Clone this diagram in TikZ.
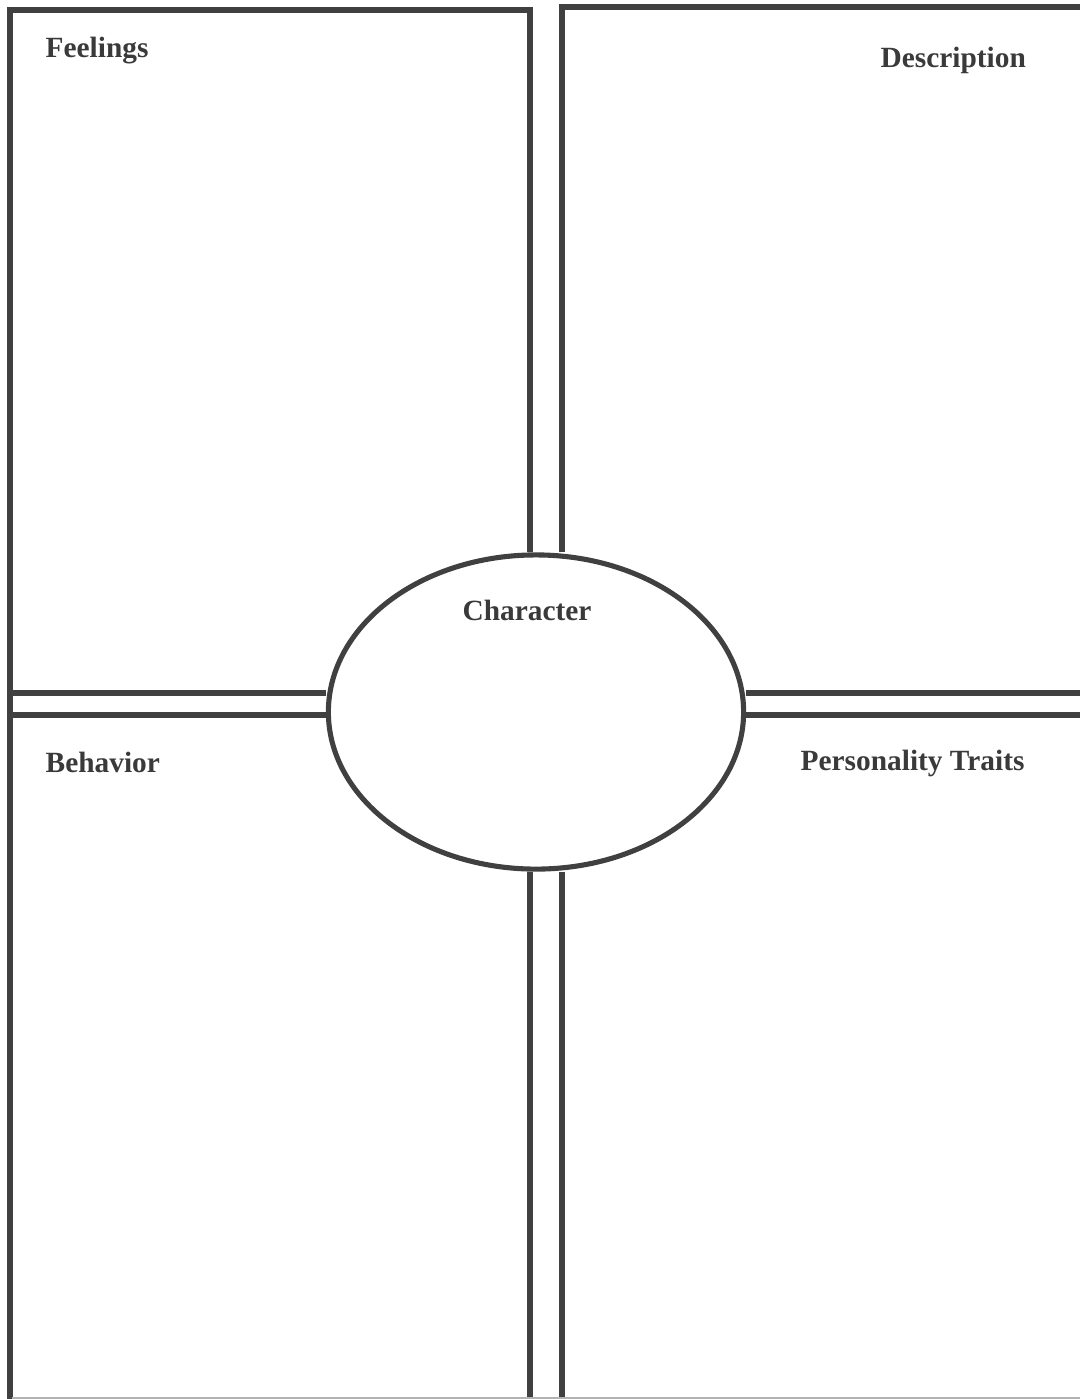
\documentclass[tikz,border=0pt]{standalone}
\usepackage{fontspec}
\setmainfont{Liberation Serif}
\usetikzlibrary{positioning,shapes.geometric}
\definecolor{ink}{HTML}{404040}
\tikzset{
  wall/.style={draw=ink,line width=1.45pt},
  hint/.style={font=\fontsize{8.35}{10}\selectfont\bfseries,text=ink!90!black,inner sep=0pt,anchor=base west}
}
\begin{document}
\begin{tikzpicture}[x=0.01cm,y=-0.01cm]
    \useasboundingbox (0,0) rectangle (1080,1399);
    % centre oval
    \node[wall,ellipse,minimum width=4.15cm,minimum height=3.14cm,inner sep=0pt] (char) at (536,712) {};
    \node[hint] (charlbl) at (462,620) {Character};
    % frame corners
    \coordinate (tl) at (10,10);   \coordinate (bl) at (10,1399);
    \coordinate (lv) at (530,10);  \coordinate (rv) at (562,7);
    \coordinate (tr) at (1080,7);
    \coordinate (ht) at (12,693);  \coordinate (hb) at (12,715);
    \coordinate (rt) at (1080,693);\coordinate (rb) at (1080,715);
    % upper half
    \draw[wall] (char.north -| lv) -- (lv) -- (tl) -- (bl);
    \draw[wall] (char.north -| rv) -- (rv) -- (tr);
    % lower half
    \draw[wall] (char.south -| lv) -- (lv |- bl);
    \draw[wall] (char.south -| rv) -- (rv |- bl);
    % cross bars
    \draw[wall] (ht) -- (ht -| char.west);
    \draw[wall] (hb) -- (hb -| char.west);
    \draw[wall] (char.east |- rt) -- (rt);
    \draw[wall] (char.east |- rb) -- (rb);
    \draw[gray!60,line width=0.4pt] (12,1398) -- (1080,1398);
    % quarter titles
    \node[hint] (feel) at (45,57) {Feelings};
    \node[hint] (desc) at (880,67) {Description};
    \node[hint] (behav) at (45,772) {Behavior};
    \node[hint] (pers) at (800,770) {Personality Traits};
\end{tikzpicture}
\end{document}
